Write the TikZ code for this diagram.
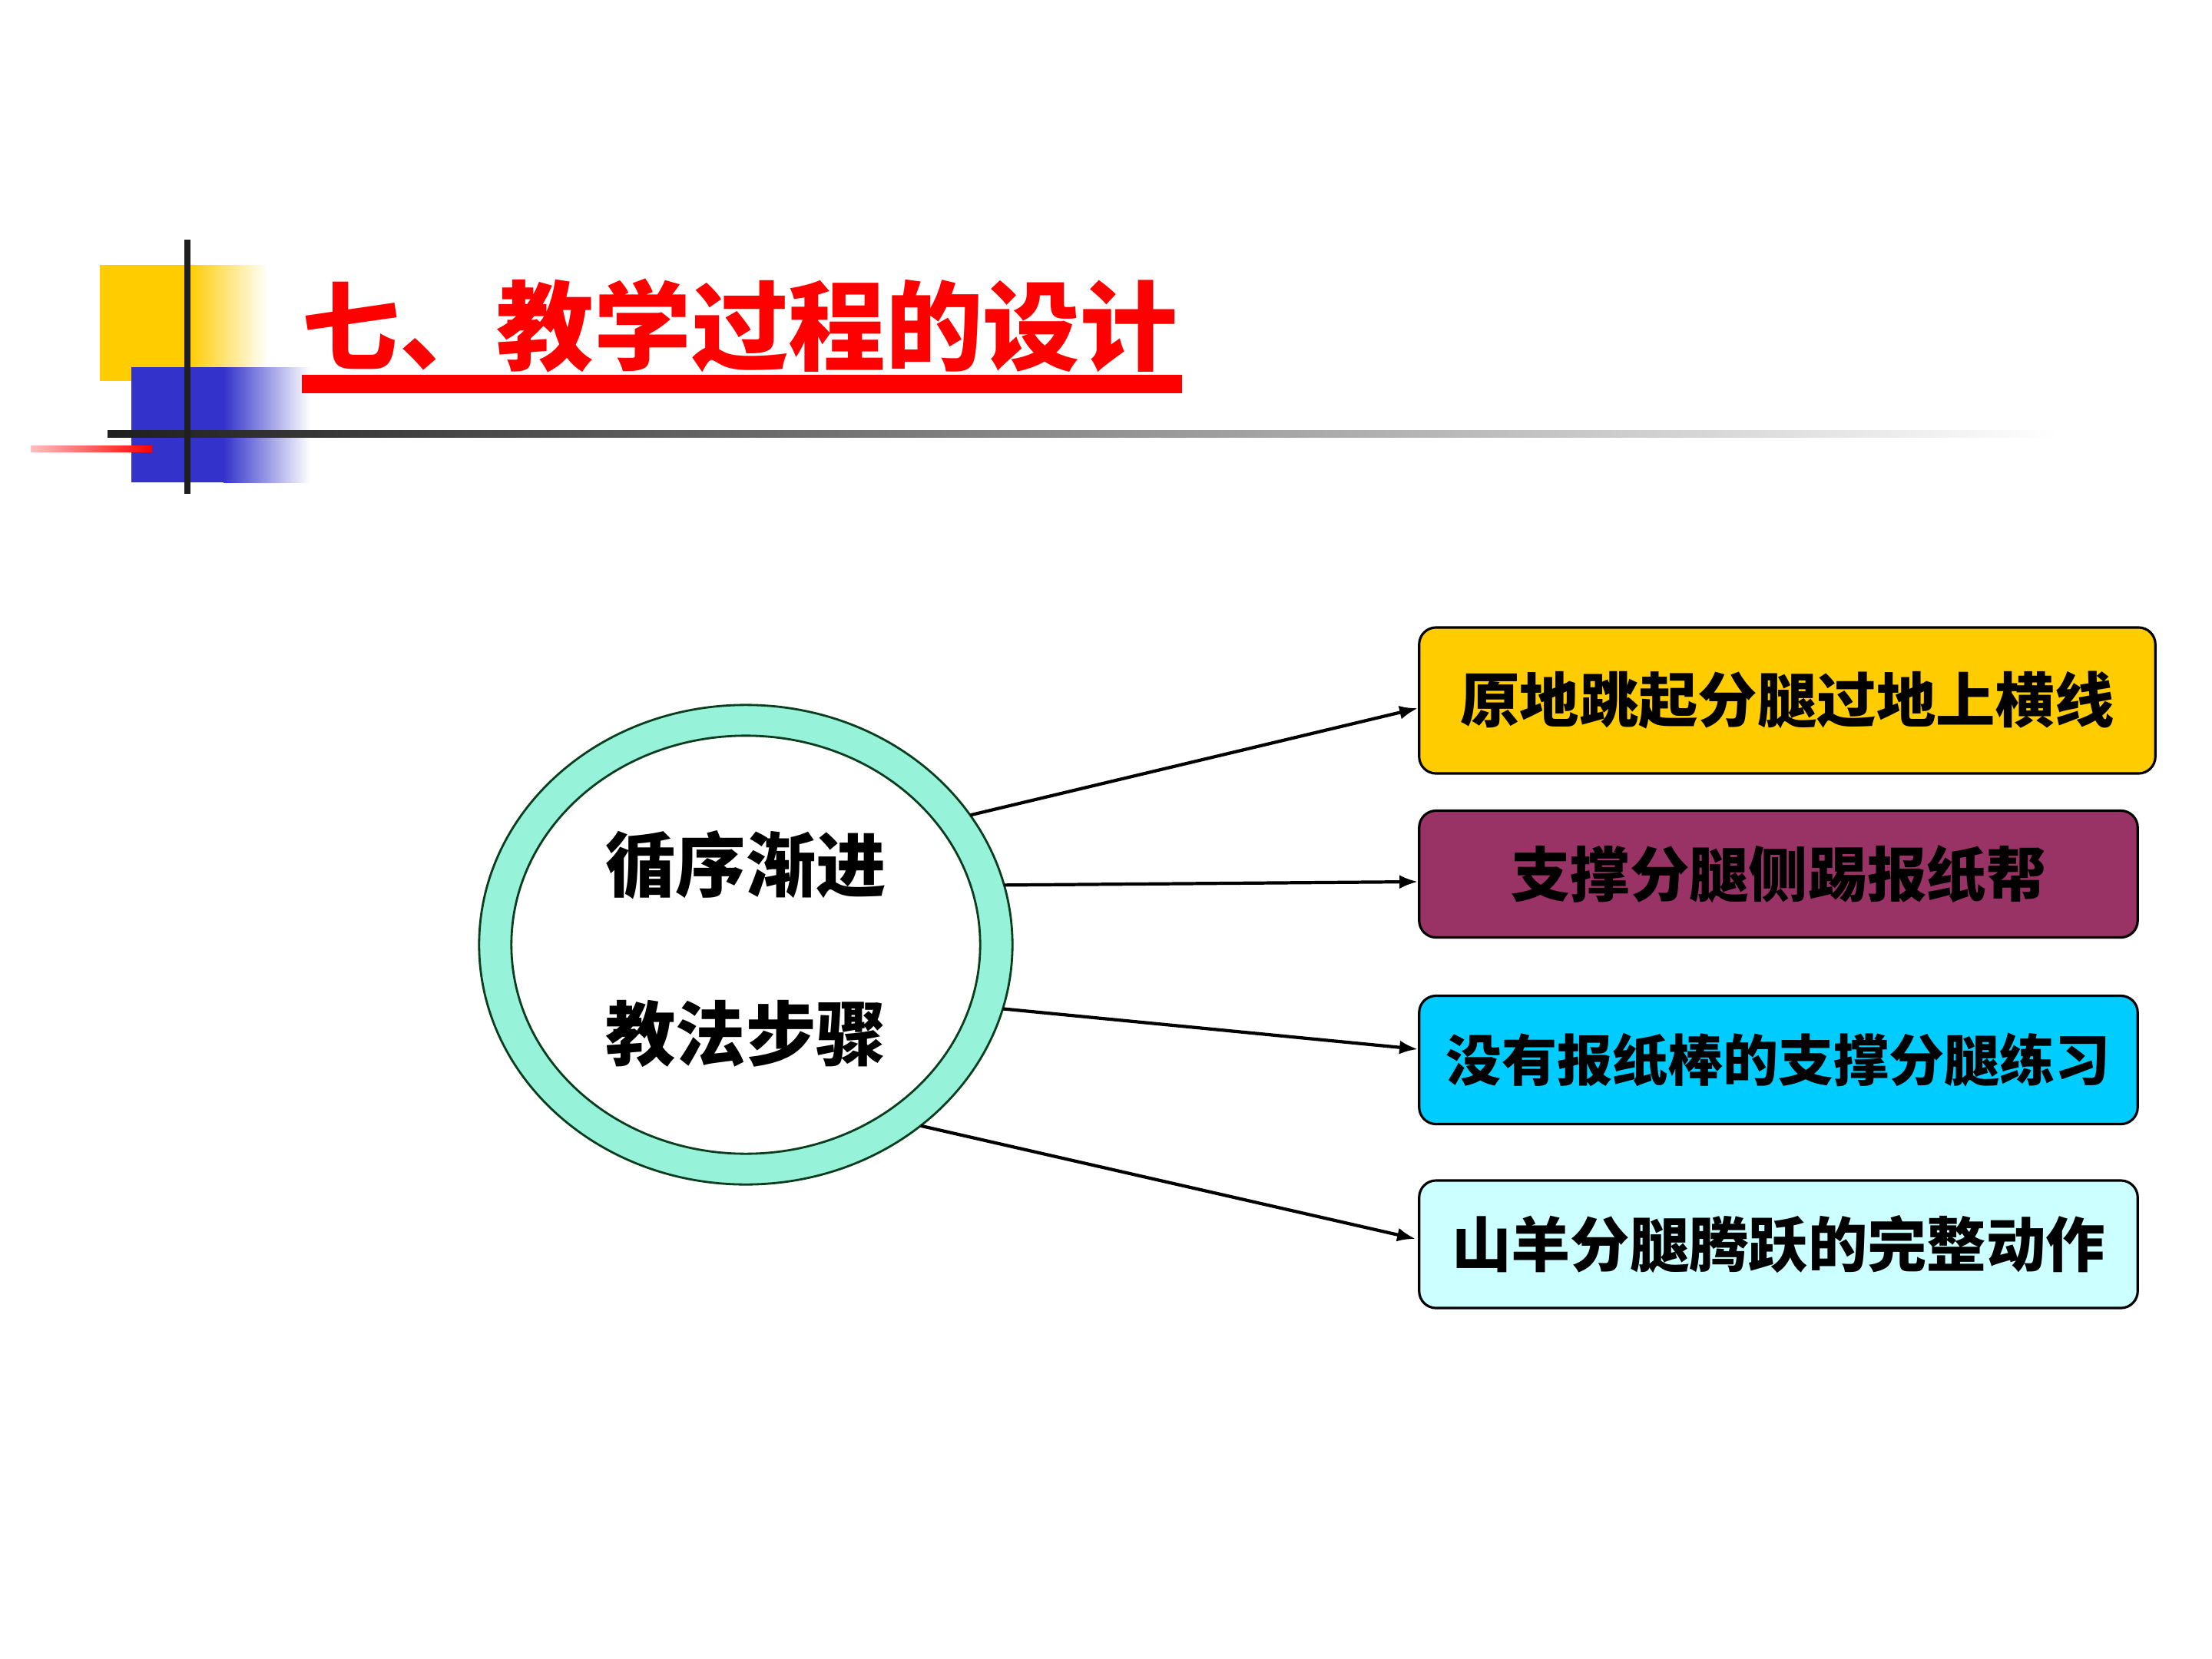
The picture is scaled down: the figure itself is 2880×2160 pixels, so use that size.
\documentclass[tikz,border=0pt]{standalone}
\usepackage{fontspec}
\newfontfamily\cjk{Noto Sans CJK SC}
\usetikzlibrary{shapes.geometric,arrows.meta,calc}
\definecolor{ybox}{HTML}{FFCC00}
\definecolor{pbox}{HTML}{993366}
\definecolor{cbox}{HTML}{00CCFF}
\definecolor{lcbox}{HTML}{CCFFFF}
\definecolor{ringc}{HTML}{96F2D8}
\definecolor{ringline}{HTML}{0B3D1E}
\definecolor{decoblue}{HTML}{3333CC}
\definecolor{titlered}{HTML}{FF0000}
\tikzset{
  stepbox/.style={draw=black, line width=0.9pt, rounded corners=0.22cm, minimum height=1.7cm, inner sep=0pt, font=\cjk\bfseries\fontsize{22pt}{24pt}\selectfont, text=black},
  link/.style={draw=black, line width=1.2pt, -{Latex[length=0.24cm,width=0.18cm]}},
  ringtext/.style={font=\cjk\bfseries\fontsize{26pt}{28pt}\selectfont, text=black, inner sep=0pt}
}
\begin{document}
\begin{tikzpicture}[x=0.01cm,y=-0.01cm]
\useasboundingbox (0,0) rectangle (2880,2160);
\fill[white] (0,0) rectangle (2880,2160);
% decoration
\fill[ybox] (130,345) rectangle (246,496);
\shade[left color=ybox, right color=white] (245,345) rectangle (349,496);
\fill[decoblue] (171,478) rectangle (292,628);
\shade[left color=decoblue, right color=white] (291,478) rectangle (404,628);
\shade[left color=black!88, right color=white] (140,560) rectangle (2680,569);
\shade[left color=red!25, right color=red] (40,580) rectangle (198,588);
\fill[black!88] (240,312) rectangle (248,643);
% title
\node[anchor=base west, inner sep=0pt, text=titlered, font=\cjk\bfseries\fontsize{36pt}{40pt}\selectfont] (title) at (393,472) {七、教学过程的设计};
\coordinate (ulA) at (393,500);
\coordinate (ulB) at (1539,500);
\draw[titlered, line width=7] (ulA) -- (ulB);
% ring
\node[ellipse, draw=ringline, line width=0.8pt, fill=ringc, minimum width=6.94cm, minimum height=6.24cm, inner sep=0pt, outer sep=0pt] (outer) at (971,1230) {};
\node[ellipse, draw=ringline, line width=0.8pt, fill=white, minimum width=6.10cm, minimum height=5.44cm, inner sep=0pt, outer sep=0pt] (inner) at (971,1230) {};
\node[ringtext] (t1) at (971,1126) {循序渐进};
\node[ringtext] (t2) at (971,1346) {教法步骤};
% boxes
\node[stepbox, fill=ybox, minimum width=9.58cm, minimum height=1.90cm] (b1) at (2327,912) {原地跳起分腿过地上横线};
\node[stepbox, fill=pbox, minimum width=9.35cm, minimum height=1.65cm] (b2) at (2315.5,1138) {支撑分腿侧踢报纸帮};
\node[stepbox, fill=cbox, minimum width=9.35cm, minimum height=1.67cm, font=\cjk\bfseries\fontsize{20.5pt}{22pt}\selectfont] (b3) at (2315.5,1380) {没有报纸棒的支撑分腿练习};
\node[stepbox, fill=lcbox, minimum width=9.35cm, minimum height=1.66cm] (b4) at (2315.5,1620) {山羊分腿腾跃的完整动作};
% arrows
\draw[link] (outer.30) -- ($(b1.west)+(0,10)$);
\draw[link] (outer.13.5) -- ($(b2.west)+(0,10)$);
\draw[link] (outer.-14.7) -- ($(b3.west)+(0,-14)$);
\draw[link] (outer.-46.5) -- ($(b4.west)+(-3,-7)$);
\end{tikzpicture}
\end{document}
